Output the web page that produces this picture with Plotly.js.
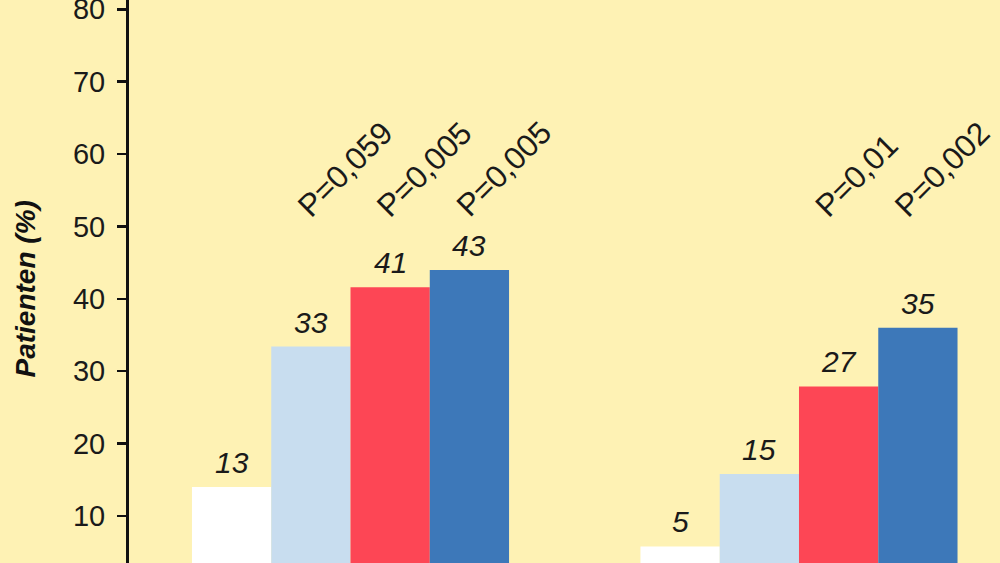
<!DOCTYPE html>
<html>
<head>
<meta charset="utf-8">
<script src="https://cdn.plot.ly/plotly-3.0.1.min.js"></script>
<style>html,body{margin:0;padding:0;background:#FEF2B4;}#chart{width:1000px;height:563px;}</style>
</head>
<body>
<div id="chart"></div>
<script>
// Data
const groups = [0, 1];
const whiteVals = [14.0, 5.8];
const lightBlueVals = [33.4, 15.8];
const redVals = [41.6, 27.9];
const blueVals = [44.0, 36.0];
const whiteLabels = ["13", "5"];
const lightBlueLabels = ["33", "15"];
const redLabels = ["41", "27"];
const blueLabels = ["43", "35"];
const lightBlueP = ["P=0,059", ""];
const redP = ["P=0,005", "P=0,01"];
const blueP = ["P=0,005", "P=0,002"];
const yTicks = [10, 20, 30, 40, 50, 60, 70, 80];
const yTitle = "Patienten (%)";

const series = [
  {vals: whiteVals, labels: whiteLabels, p: ["", ""], color: "#FFFFFF"},
  {vals: lightBlueVals, labels: lightBlueLabels, p: lightBlueP, color: "#C8DDEF"},
  {vals: redVals, labels: redLabels, p: redP, color: "#FD4655"},
  {vals: blueVals, labels: blueLabels, p: blueP, color: "#3D78B9"}
];

const bargap = 0.293;
const nSeries = series.length;
const barW = (1 - bargap) / nSeries;
const pLevel = 50.0;
const pShift = [-23, -33];
const FONT = "Liberation Sans, Arial, sans-serif";

const traces = series.map(s => ({
  type: "bar", x: groups, y: s.vals, marker: {color: s.color, line: {width: 0}},
  hoverinfo: "none", showlegend: false
}));

const annotations = [];
series.forEach((s, si) => {
  groups.forEach((g, gi) => {
    const xc = g + (si - (nSeries - 1) / 2) * barW;
    annotations.push({
      x: xc, y: s.vals[gi], xref: "x", yref: "y", text: s.labels[gi],
      showarrow: false, xanchor: "center", yanchor: "bottom", yshift: 6,
      font: {family: FONT, size: 30, color: "#1a1a1a", style: "italic"}
    });
    if (s.p[gi]) {
      annotations.push({
        x: xc, y: pLevel, xref: "x", yref: "y", text: s.p[gi],
        showarrow: false, textangle: -45, xanchor: "left", yanchor: "bottom", xshift: pShift[gi],
        font: {family: FONT, size: 31.5, color: "#1a1a1a"}
      });
    }
  });
});

annotations.push({
  xref: "paper", yref: "paper", x: 0, y: 0.5, xshift: -104, yshift: -8,
  xanchor: "center", yanchor: "middle", textangle: -90, showarrow: false,
  text: "<b><i>" + yTitle + "</i></b>",
  font: {family: FONT, size: 28, color: "#111"}
});

const layout = {
  width: 1000, height: 563,
  margin: {l: 129, r: 0, t: 0, b: 0, pad: 0},
  paper_bgcolor: "#FEF2B4", plot_bgcolor: "#FEF2B4",
  barmode: "group", bargap: bargap, bargroupgap: 0,
  xaxis: {range: [-0.4939, 1.4482], showticklabels: false, ticks: "", showgrid: false, zeroline: false, showline: false},
  yaxis: {
    range: [3.51, 81.28], tickvals: yTicks, ticktext: yTicks.map(String),
    showline: true, linecolor: "#111", linewidth: 3, ticks: "outside", ticklen: 9, tickwidth: 2.5, tickcolor: "#111",
    showgrid: false, zeroline: false, ticklabeloverflow: "allow", ticklabelstandoff: 6,
    tickfont: {family: FONT, size: 29, color: "#1a1a1a"}
  },
  annotations: annotations
};

Plotly.newPlot("chart", traces, layout, {displayModeBar: false, staticPlot: true});
</script>
</body>
</html>
